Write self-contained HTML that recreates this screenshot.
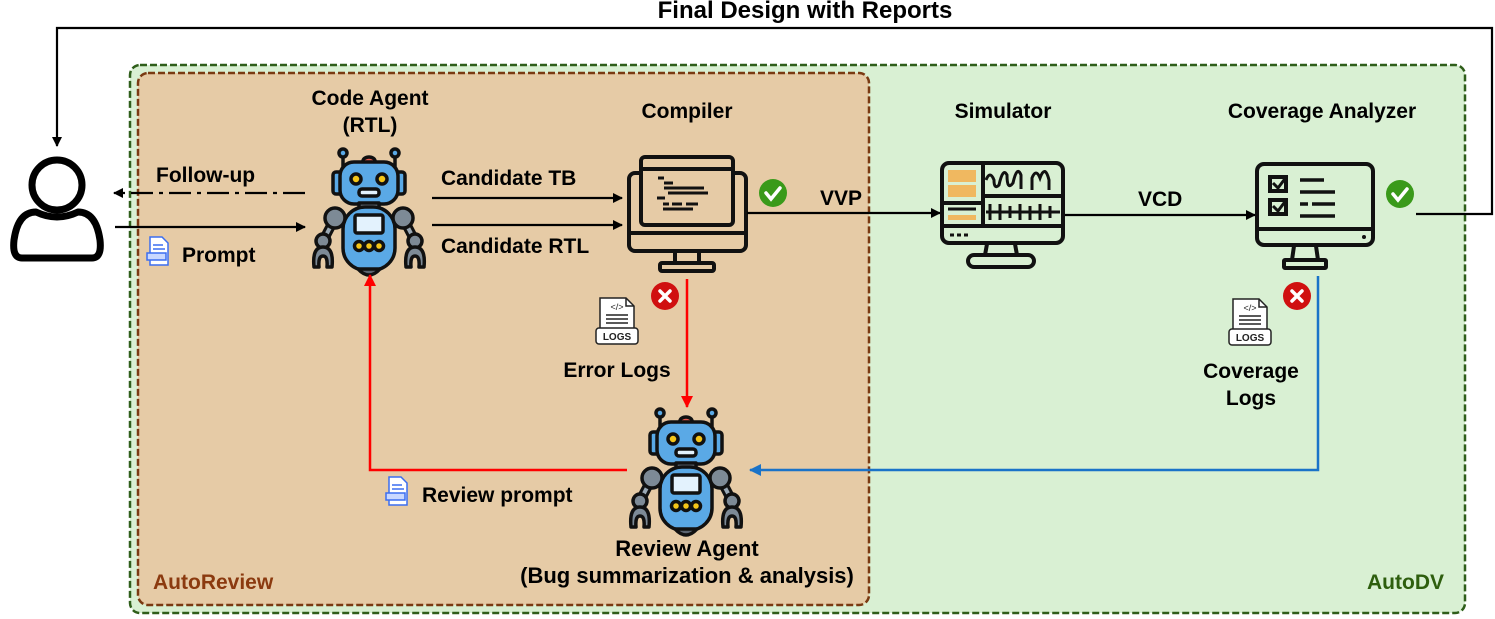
<!DOCTYPE html>
<html><head><meta charset="utf-8"><style>
html,body{margin:0;padding:0;background:#fff;}
svg{display:block;font-family:"Liberation Sans",sans-serif;font-weight:bold;}
</style></head><body>
<svg width="1495" height="619" viewBox="0 0 1495 619" xmlns="http://www.w3.org/2000/svg">
<defs>
<marker id="ak" markerWidth="10" markerHeight="10" refX="9" refY="5" orient="auto" markerUnits="userSpaceOnUse"><path d="M0,0 L10,5 L0,10 z" fill="#000"/></marker>
<marker id="ar" markerWidth="12" markerHeight="12" refX="11" refY="6" orient="auto" markerUnits="userSpaceOnUse"><path d="M0,0 L12,6 L0,12 z" fill="#f00"/></marker>
<marker id="ab" markerWidth="12" markerHeight="12" refX="11" refY="6" orient="auto" markerUnits="userSpaceOnUse"><path d="M0,0 L12,6 L0,12 z" fill="#1a73c8"/></marker>
<g id="robot" stroke="#111" stroke-width="3.5" stroke-linejoin="round">
  <line x1="30" y1="6" x2="30" y2="24"/><line x1="82" y1="6" x2="82" y2="24"/>
  <circle cx="30" cy="5" r="4" fill="#5aa9e6"/><circle cx="82" cy="5" r="4" fill="#5aa9e6"/>
  <ellipse cx="56" cy="13" rx="6" ry="4" fill="#e85a4f"/>
  <rect x="20" y="24" width="9" height="22" rx="3" fill="#5aa9e6"/><rect x="83" y="24" width="9" height="22" rx="3" fill="#5aa9e6"/>
  <rect x="27" y="14" width="58" height="42" rx="14" fill="#5aa9e6"/>
  <circle cx="43" cy="31" r="5" fill="#f5c518"/><circle cx="69" cy="31" r="5" fill="#f5c518"/>
  <rect x="46" y="41" width="20" height="7" rx="3" fill="#e3f2fd"/>
  <rect x="46" y="55" width="20" height="6" fill="#8a99a6"/>
  <line x1="22" y1="70" x2="10" y2="93" stroke-width="10" stroke="#111"/><line x1="22" y1="70" x2="10" y2="93" stroke-width="4" stroke="#9aa8b4"/>
  <line x1="90" y1="70" x2="102" y2="93" stroke-width="10" stroke="#111"/><line x1="90" y1="70" x2="102" y2="93" stroke-width="4" stroke="#9aa8b4"/>
  <rect x="30" y="59" width="52" height="63" rx="22" fill="#5aa9e6"/>
  <circle cx="22" cy="70" r="10" fill="#7d8a96"/><circle cx="90" cy="70" r="10" fill="#7d8a96"/>
  <circle cx="10" cy="93" r="7" fill="#7d8a96"/><circle cx="102" cy="93" r="7" fill="#7d8a96"/>
  <path d="M1,119 Q-1,99 10,99 Q21,99 19,119 L14,119 Q15,108 10,108 Q5,108 6,119 z" fill="#7d8a96"/>
  <path d="M93,119 Q91,99 102,99 Q113,99 111,119 L106,119 Q107,108 102,108 Q97,108 98,119 z" fill="#7d8a96"/>
  <rect x="42" y="67" width="28" height="18" rx="2" fill="#e3f2fd"/>
  <circle cx="46" cy="98" r="4.5" fill="#f5c518"/><circle cx="56" cy="98" r="4.5" fill="#f5c518"/><circle cx="66" cy="98" r="4.5" fill="#f5c518"/>
  <path d="M45,121 Q56,133 67,121 z" fill="#5b6470"/>
</g>
<g id="logs" stroke="#222" stroke-width="1.5" fill="#fff">
  <path d="M4,0 L30,0 L38,8 L38,32 L4,32 z"/><path d="M30,0 L30,8 L38,8" fill="none"/>
  <text x="21" y="12" font-size="9" text-anchor="middle" fill="#222" stroke="none" font-weight="normal">&lt;/&gt;</text>
  <line x1="10" y1="17" x2="32" y2="17"/><line x1="10" y1="21" x2="32" y2="21"/><line x1="10" y1="25" x2="32" y2="25"/>
  <rect x="0" y="30" width="42" height="16" rx="3"/>
  <text x="21" y="42" font-size="10" text-anchor="middle" fill="#222" stroke="none">LOGS</text>
</g>
<g id="doc">
  <path d="M3,0 L15,0 L21,6 L21,28 L3,28 z" fill="#fff" stroke="#3b6ef0" stroke-width="1.5"/>
  <line x1="6" y1="8" x2="16" y2="8" stroke="#3b6ef0" stroke-width="1.5"/><line x1="6" y1="12" x2="18" y2="12" stroke="#3b6ef0" stroke-width="1.5"/>
  <rect x="0" y="16" width="19" height="7" fill="#c9d8ff" stroke="#3b6ef0" stroke-width="1.5"/>
</g>
<g id="ok"><circle r="14" fill="#3a9a1a"/><path d="M-7,0 L-2,6 L7,-5" stroke="#fff" stroke-width="3.5" fill="none" stroke-linecap="round"/></g>
<g id="bad"><circle r="14" fill="#d01010"/><path d="M-5,-5 L5,5 M5,-5 L-5,5" stroke="#fff" stroke-width="3.5" stroke-linecap="round"/></g>
</defs>

<rect x="130" y="65" width="1335" height="548" rx="10" fill="#d9f0d3" stroke="#2f5e1a" stroke-width="2.5" stroke-dasharray="7,3"/>
<rect x="138" y="73" width="731" height="532" rx="10" fill="#e6cba6" stroke="#7a3a12" stroke-width="2.5" stroke-dasharray="7,3"/>

<g font-size="23">
<text x="805" y="18" font-size="24" text-anchor="middle">Final Design with Reports</text>
<path d="M1416,214 L1492,214 L1492,28 L57,28 L57,146" fill="none" stroke="#000" stroke-width="2.2" marker-end="url(#ak)"/>

<circle cx="57" cy="185" r="25" fill="none" stroke="#000" stroke-width="7"/>
<path d="M22,258 Q12,258 14,240 Q18,212 36,212 Q57,222 78,212 Q96,212 100,240 Q102,258 92,258 z" fill="none" stroke="#000" stroke-width="7" stroke-linejoin="round"/>

<path d="M305,193 L114,193" stroke="#000" stroke-width="2.2" stroke-dasharray="22,6,4,6" marker-end="url(#ak)"/>
<text x="156" y="182" font-size="21">Follow-up</text>
<path d="M115,227 L305,227" stroke="#000" stroke-width="2.2" marker-end="url(#ak)"/>
<use href="#doc" x="147" y="237"/>
<text x="182" y="262" font-size="21">Prompt</text>

<text x="370" y="105" font-size="21" text-anchor="middle">Code Agent</text>
<text x="370" y="132" font-size="21" text-anchor="middle">(RTL)</text>
<use href="#robot" x="313" y="148"/>

<path d="M432,198 L622,198" stroke="#000" stroke-width="2.2" marker-end="url(#ak)"/>
<text x="441" y="185" font-size="21">Candidate TB</text>
<path d="M432,225 L622,225" stroke="#000" stroke-width="2.2" marker-end="url(#ak)"/>
<text x="441" y="253" font-size="21">Candidate RTL</text>

<text x="687" y="118" font-size="21" text-anchor="middle">Compiler</text>
<g stroke="#111" stroke-width="4" fill="none">
<rect x="629" y="173" width="117" height="78" rx="6" fill="#e6cba6"/>
<line x1="629" y1="233" x2="746" y2="233"/>
<rect x="641" y="157" width="92" height="68" rx="4" fill="#e6cba6"/>
<line x1="641" y1="169" x2="733" y2="169"/>
<path d="M675,251 L675,263 M699,251 L699,263"/>
<rect x="660" y="263" width="54" height="8" rx="2"/>
</g>
<g stroke="#111" stroke-width="3">
<path d="M658,178 h6 M664,183 h8 M667,183 h6 M664,188 h40 M668,193 h40 M657,198 h8 M663,204 h6 M672,204 h10 M686,204 h12 M663,209 h30"/>
</g>
<use href="#ok" x="773" y="193"/>
<path d="M747,213 L940,213" stroke="#000" stroke-width="2.2" marker-end="url(#ak)"/>
<text x="820" y="205" font-size="21">VVP</text>

<text x="1003" y="118" font-size="21" text-anchor="middle">Simulator</text>
<g stroke="#111" stroke-width="4" fill="none">
<rect x="942" y="163" width="121" height="80" rx="7"/>
<line x1="942" y1="226" x2="1063" y2="226"/>
<line x1="983" y1="163" x2="983" y2="226"/>
<line x1="942" y1="203" x2="983" y2="203"/>
<line x1="983" y1="196" x2="1063" y2="196"/>
<path d="M987,244 L985,255 M1015,244 L1017,255"/>
<rect x="968" y="255" width="66" height="12" rx="6"/>
<path d="M986,180 q4,-10 8,0 q0,10 5,5 q4,-18 8,-10 q0,16 6,8 q4,-18 8,-8 v14 M1032,190 v-12 q4,-10 8,0 q5,-14 9,2 v10" stroke-width="3"/>
<path d="M986,212 h74 M990,204 v16 M1000,204 v16 M1010,206 v12 M1020,204 v16 M1030,206 v14 M1040,204 v16 M1050,206 v12" stroke-width="3"/>
</g>
<rect x="948" y="170" width="28" height="12" fill="#f0b860"/>
<rect x="948" y="185" width="28" height="12" fill="#f0b860"/>
<rect x="948" y="215" width="28" height="5" fill="#f0b860"/>
<path d="M948,209 h28" stroke="#111" stroke-width="3"/>
<path d="M950,235 h4 M957,235 h4 M964,235 h4" stroke="#111" stroke-width="3"/>

<path d="M1065,215 L1255,215" stroke="#000" stroke-width="2.2" marker-end="url(#ak)"/>
<text x="1138" y="206" font-size="21">VCD</text>

<text x="1322" y="118" font-size="21" text-anchor="middle">Coverage Analyzer</text>
<g stroke="#111" stroke-width="4" fill="none">
<rect x="1257" y="164" width="116" height="81" rx="7"/>
<line x1="1257" y1="229" x2="1373" y2="229"/>
<path d="M1294,246 L1292,260 M1316,246 L1318,260"/>
<rect x="1284" y="260" width="42" height="8" rx="1"/>
<rect x="1270" y="177" width="16" height="14"/><rect x="1270" y="200" width="16" height="14"/>
<path d="M1273,183 l5,5 l9,-12 M1273,206 l5,5 l9,-12" stroke-width="3"/>
<path d="M1300,180 h24 M1300,192 h35 M1300,204 h8 M1312,204 h23 M1300,216 h35" stroke-width="3.5"/>
</g>
<circle cx="1364" cy="237" r="2" fill="#111"/>
<use href="#ok" x="1400" y="194"/>

<use href="#bad" x="665" y="296"/>
<use href="#logs" x="596" y="298"/>
<text x="617" y="377" font-size="21" text-anchor="middle">Error Logs</text>
<path d="M687,279 L687,407" stroke="#f00" stroke-width="2.5" marker-end="url(#ar)"/>

<use href="#bad" x="1297" y="296"/>
<use href="#logs" x="1229" y="299"/>
<text x="1251" y="378" font-size="21" text-anchor="middle">Coverage</text>
<text x="1251" y="405" font-size="21" text-anchor="middle">Logs</text>
<path d="M1318,276 L1318,470 L750,470" fill="none" stroke="#1a73c8" stroke-width="2.5" marker-end="url(#ab)"/>

<use href="#robot" x="630" y="408"/>
<path d="M627,470 L370,470 L370,275" fill="none" stroke="#f00" stroke-width="2.5" marker-end="url(#ar)"/>
<use href="#doc" x="386" y="477"/>
<text x="422" y="502" font-size="21">Review prompt</text>
<text x="687" y="556" font-size="22" text-anchor="middle">Review Agent</text>
<text x="687" y="583" font-size="22" text-anchor="middle">(Bug summarization &amp; analysis)</text>

<text x="153" y="589" font-size="21" fill="#8b3a0f">AutoReview</text>
<text x="1367" y="589" font-size="21" fill="#2e5e0e">AutoDV</text>
</g>
</svg>
</body></html>
